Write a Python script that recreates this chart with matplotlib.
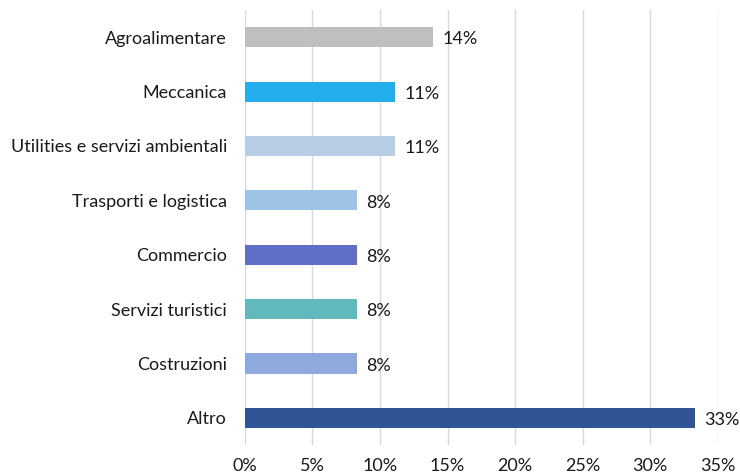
import matplotlib.pyplot as plt

# Settori (dall'alto verso il basso)
settori = ['Agroalimentare', 'Meccanica', 'Utilities e servizi ambientali',
           'Trasporti e logistica', 'Commercio', 'Servizi turistici',
           'Costruzioni', 'Altro']
quote = [13.9, 11.1, 11.1, 8.3, 8.3, 8.3, 8.3, 33.3]
etichette = ['14%', '11%', '11%', '8%', '8%', '8%', '8%', '33%']
colori = ['#BFBFBF', '#22ADEC', '#B7CDE3', '#9DC3E6', '#5F6FC8',
          '#61B9BC', '#8EAADC', '#2F5597']
ticks_x = [0, 5, 10, 15, 20, 25, 30, 35]

plt.rcParams['font.family'] = ['Lato', 'DejaVu Sans']

fig = plt.figure(figsize=(7.4, 4.76), dpi=100)
ax = fig.add_axes([0.331, 0.065, 0.639, 0.914])

y = list(range(len(settori)))
ax.barh(y, quote, height=0.37, color=colori, zorder=3)
for yi, v, lab in zip(y, quote, etichette):
    ax.text(v + 0.7, yi + 0.04, lab, va='center', ha='left', fontsize=13, color='#1a1a1a')

ax.set_ylim(len(settori) - 0.5, -0.5)
ax.set_xlim(0, 35)
ax.set_yticks(y)
ax.set_yticklabels(settori, fontsize=13, color='#1a1a1a')
ax.set_xticks(ticks_x)
ax.set_xticklabels([f'{t}%' for t in ticks_x], fontsize=13, color='#1a1a1a')
ax.tick_params(axis='both', length=0)
ax.tick_params(axis='x', pad=9)
ax.tick_params(axis='y', pad=13)
ax.grid(axis='x', color='#D9D9D9', linewidth=1, zorder=0)
for s in ax.spines.values():
    s.set_visible(False)

fig.savefig('out.png', dpi=100)
